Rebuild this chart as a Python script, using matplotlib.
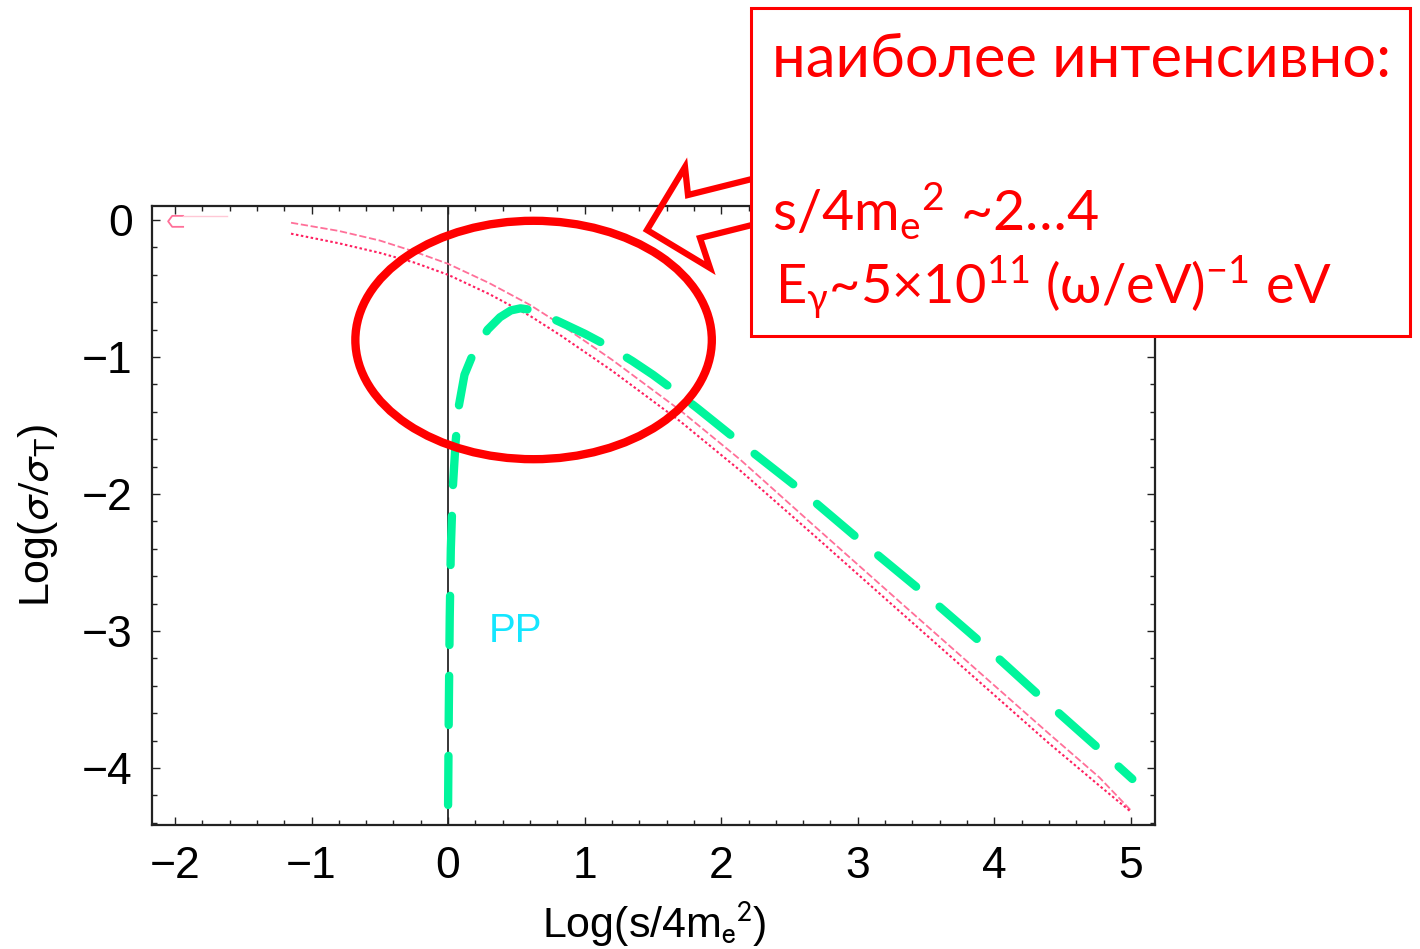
"""
Сечения процессов gamma-e и gamma-gamma -> e+e- (PP) в логарифмическом масштабе
"""

import matplotlib.pyplot as plt
from matplotlib.patches import Ellipse, Polygon, Rectangle
from matplotlib.ticker import MultipleLocator

W, H = 1420, 949

# PP: gamma gamma -> e+ e-
pp_x = [0.00, 0.005, 0.012, 0.02, 0.035, 0.055, 0.08, 0.12, 0.19, 0.29, 0.38, 0.46,
        0.53, 0.60, 0.70, 0.83, 1.00, 1.17, 1.35, 1.50, 1.65, 1.82, 2.12, 2.58,
        3.03, 3.48, 3.92, 4.36, 4.80, 5.01]
pp_y = [-4.27, -3.60, -2.90, -2.40, -1.95, -1.62, -1.35, -1.13, -0.96, -0.80, -0.71, -0.66,
        -0.645, -0.655, -0.69, -0.75, -0.83, -0.92, -1.03, -1.13, -1.24, -1.37, -1.61, -1.97,
        -2.35, -2.72, -3.10, -3.50, -3.89, -4.08]

# две розовые кривые
pink_x = [-1.15, -0.80, -0.50, -0.25, 0.00, 0.30, 0.60, 0.82, 1.20, 1.70, 2.14,
          2.70, 3.31, 3.90, 4.40, 4.77, 5.00]
pink_upper = [-0.02, -0.08, -0.15, -0.23, -0.32, -0.46, -0.62, -0.76, -1.02, -1.39, -1.75,
              -2.25, -2.79, -3.31, -3.75, -4.07, -4.31]
pink_lower = [-0.10, -0.17, -0.24, -0.31, -0.40, -0.54, -0.70, -0.84, -1.10, -1.47, -1.83,
              -2.32, -2.86, -3.38, -3.82, -4.13, -4.32]

# короткий кусок у x = -2
cap_x = [-1.94, -2.02, -2.05, -2.02, -1.94]
cap_y = [0.03, 0.03, -0.01, -0.05, -0.05]
faint_x = [-1.94, -1.62]
faint_y = [0.03, 0.03]

x_ticks = [-2, -1, 0, 1, 2, 3, 4, 5]
y_ticks = [0, -1, -2, -3, -4]

box_lines = [
    "наиболее интенсивно:",
    r"s/4m$_\mathrm{e}$$^2$ ~2…4",
    r"E$_\mathrm{γ}$~5×10$^{11}$ (ω/eV)$^{-1}$ eV",
]
box_sizes = [43, 40, 39]
box_pos = [(772, 77), (772, 230), (775, 305)]


def px(x, y):
    """пиксели -> доли фигуры"""
    return x / W, 1 - y / H


def main():
    plt.rcParams["font.family"] = ["Liberation Sans", "DejaVu Sans"]
    plt.rcParams["mathtext.fontset"] = "custom"
    plt.rcParams["mathtext.rm"] = "Lato"
    plt.rcParams["mathtext.it"] = "Lato:italic"

    fig = plt.figure(figsize=(W / 100, H / 100), dpi=100)
    ax = fig.add_axes([152 / W, 1 - 825 / H, (1155 - 152) / W, (825 - 206) / H])

    ax.set_xlim(-2.168, 5.176)
    ax.set_ylim(-4.416, 0.102)

    ax.axvline(0, color="black", lw=1.1, zorder=1)

    # розовые кривые
    ax.plot(pink_x, pink_upper, color="#ff7099", lw=1.3, ls=(0, (4, 1.5)), zorder=2)
    ax.plot(pink_x, pink_lower, color="#ff2060", lw=1.5, ls=(0, (1.2, 1.2)), zorder=2)
    ax.plot(cap_x, cap_y, color="#ff7099", lw=1.3, zorder=2)
    ax.plot(faint_x, faint_y, color="#ffc8d6", lw=1.0, zorder=2)

    # PP
    ax.plot(pp_x, pp_y, color="#00f59c", lw=6, ls=(0, (5.9, 3.7)),
            solid_capstyle="round", dash_capstyle="round", zorder=3)
    ax.text(0.3, -3.0, "PP", color="#14e6ff", fontsize=29, va="center", ha="left")

    ax.set_xticks(x_ticks)
    ax.set_yticks(y_ticks)
    ax.xaxis.set_minor_locator(MultipleLocator(0.2))
    ax.yaxis.set_minor_locator(MultipleLocator(0.2))
    ax.tick_params(which="both", direction="in", top=True, right=True,
                   width=1.0, color="#222222", labelsize=32)
    ax.tick_params(which="major", length=6)
    ax.tick_params(which="minor", length=3.5)
    ax.tick_params(axis="x", pad=15)
    ax.tick_params(axis="y", pad=14)
    for sp in ax.spines.values():
        sp.set_linewidth(1.6)
        sp.set_color("#222222")

    ax.set_xlabel(r"Log(s/4m$_\mathrm{e}$$^\mathrm{2}$)", fontsize=31, labelpad=8,
                  math_fontfamily="stixsans")
    ax.set_ylabel(r"Log($\sigma/\sigma_\mathrm{T}$)", fontsize=31, labelpad=16,
                  math_fontfamily="stixsans")

    # выделенная область
    ax.add_patch(Ellipse((0.626, -0.876), 2.61, 1.74, fill=False, ec="red",
                         lw=6, clip_on=False, zorder=4))

    # стрелка от рамки к эллипсу
    arrow_pts = [(756, 178), (688, 195), (685, 167), (647, 230),
                 (710, 268), (700, 238), (756, 224)]
    fig.add_artist(Polygon([px(x, y) for x, y in arrow_pts], closed=False, fill=False,
                           ec="red", lw=4.5, joinstyle="miter",
                           transform=fig.transFigure, zorder=4))

    # рамка с подписью
    x0, y0 = px(751, 336)
    fig.add_artist(Rectangle((x0, y0), (1410 - 751) / W, (336 - 8) / H,
                             transform=fig.transFigure, fc="white", ec="red",
                             lw=2.2, zorder=5))
    for (tx, ty), size, line in zip(box_pos, box_sizes, box_lines):
        fig.text(*px(tx, ty), line, color="red", fontsize=size, va="baseline",
                 family=["Lato", "Noto Sans", "DejaVu Sans"],
                 math_fontfamily="custom", zorder=6)

    fig.savefig("out.png", dpi=100)
    plt.close(fig)


if __name__ == "__main__":
    main()
